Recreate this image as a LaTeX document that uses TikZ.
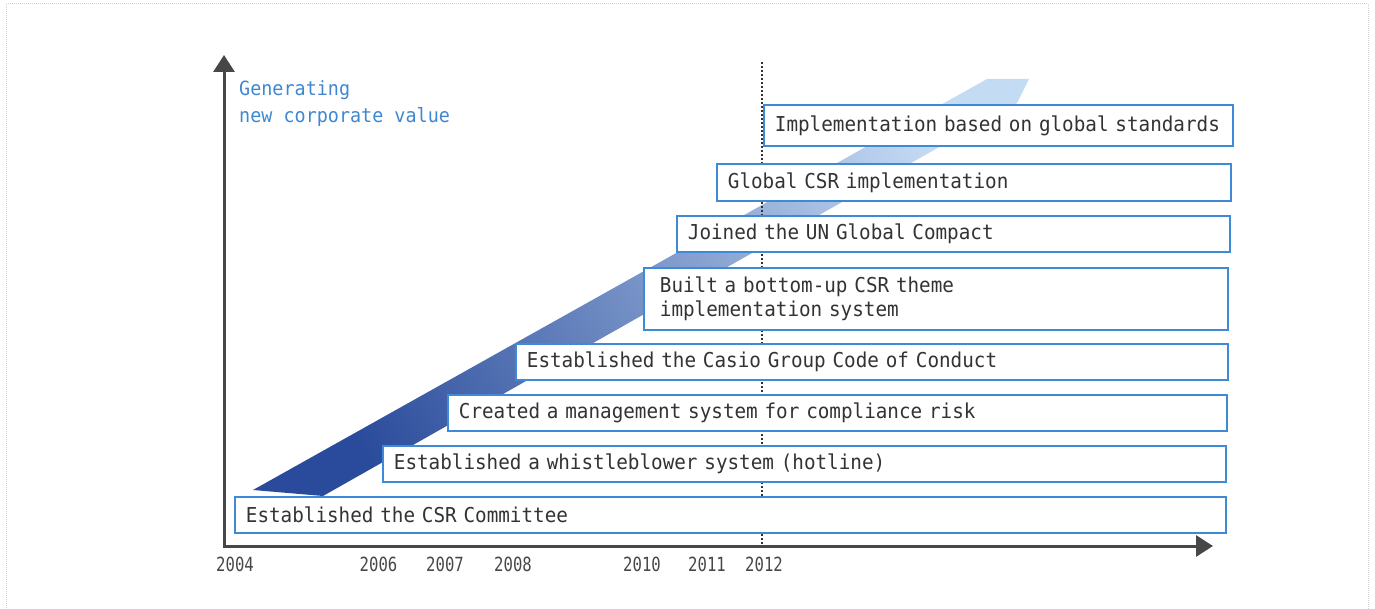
\documentclass[tikz,border=0pt]{standalone}
\usepackage{fontspec}
\newfontfamily\boxfont[FakeStretch=0.94]{DejaVu Sans Mono}
\newfontfamily\yearfont[FakeStretch=0.8]{DejaVu Sans Mono}
\usetikzlibrary{arrows.meta}
\definecolor{boxblue}{HTML}{3F8AD6}
\definecolor{txtgray}{HTML}{333333}
\definecolor{axisgray}{HTML}{474747}
\definecolor{headblue}{HTML}{3F87D0}
\definecolor{bandA}{HTML}{2A4B9B}
\definecolor{bandB}{HTML}{5683CB}
\definecolor{bandC}{HTML}{C4DBF4}
\definecolor{framegray}{HTML}{D2D2D2}
\begin{document}
\begin{tikzpicture}[x=1pt,y=-1pt,
  evbox/.style={draw=boxblue, line width=1.8pt, fill=white, anchor=north west,
    inner xsep=11pt, inner ysep=0pt, align=left, text=txtgray,
    font=\boxfont\fontsize{20.5}{24}\selectfont},
  yearlbl/.style={text=axisgray, inner sep=0pt, font=\yearfont\fontsize{19.5}{20}\selectfont},
  axisline/.style={draw=axisgray, line width=3pt,
    {Triangle[width=21pt,length=17pt]}-{Triangle[width=21pt,length=17pt]}},
  yearmark/.style={draw=txtgray, line width=1.3pt, dash pattern=on 2pt off 2pt},
  framestyle/.style={draw=framegray, line width=1pt, dash pattern=on 1pt off 1pt}]
\useasboundingbox (0,0) rectangle (1375,609);
% outer frame
\coordinate (f1) at (6,612);
\coordinate (f2) at (6,4);
\coordinate (f3) at (1368,4);
\coordinate (f4) at (1368,612);
\draw[framestyle] (f1) -- (f2) -- (f3) -- (f4);
% rising band
\shade[left color=bandA, middle color=bandB, right color=bandC, shading angle=119.4]
  (253,490) -- (987,79) -- (1029,79) -- (1017,103) -- (323,496) -- cycle;
% 2012 marker
\coordinate (d1) at (762,62);
\coordinate (d2) at (762,545);
\draw[yearmark] (d1) -- (d2);
% axes
\coordinate (ytop) at (224,55);
\coordinate (orig) at (224,546);
\coordinate (xend) at (1213,546);
\draw[axisline] (ytop) -- (orig) -- (xend);
% heading
\node[anchor=west, inner sep=0pt, align=left, text=headblue,
  font=\boxfont\fontsize{19.6}{27}\selectfont] (head) at (239,103.5)
  {Generating\\new corporate value};
% boxes
\node[evbox, text width=447pt, minimum height=41pt] (b1) at (763,104)
  {Implementation based on global standards};
\node[evbox, text width=492pt, minimum height=37pt] (b2) at (716,163)
  {Global CSR implementation};
\node[evbox, text width=531pt, minimum height=36pt] (b3) at (676,215)
  {Joined the UN Global Compact};
\node[evbox, inner xsep=16pt, text width=552pt, minimum height=62pt] (b4) at (643,267)
  {Built a bottom-up CSR theme\\implementation system};
\node[evbox, text width=690pt, minimum height=36pt] (b5) at (515,343)
  {Established the Casio Group Code of Conduct};
\node[evbox, text width=757pt, minimum height=36pt] (b6) at (447,394)
  {Created a management system for compliance risk};
\node[evbox, text width=821pt, minimum height=36pt] (b7) at (382,445)
  {Established a whistleblower system (hotline)};
\node[evbox, text width=969pt, minimum height=36pt] (b8) at (234,496)
  {Established the CSR Committee};
% years
\node[yearlbl] (y2004) at (235,564) {2004};
\node[yearlbl] (y2006) at (378.5,564) {2006};
\node[yearlbl] (y2007) at (445,564) {2007};
\node[yearlbl] (y2008) at (513,564) {2008};
\node[yearlbl] (y2010) at (642,564) {2010};
\node[yearlbl] (y2011) at (707,564) {2011};
\node[yearlbl] (y2012) at (764,564) {2012};
\end{tikzpicture}
\end{document}
